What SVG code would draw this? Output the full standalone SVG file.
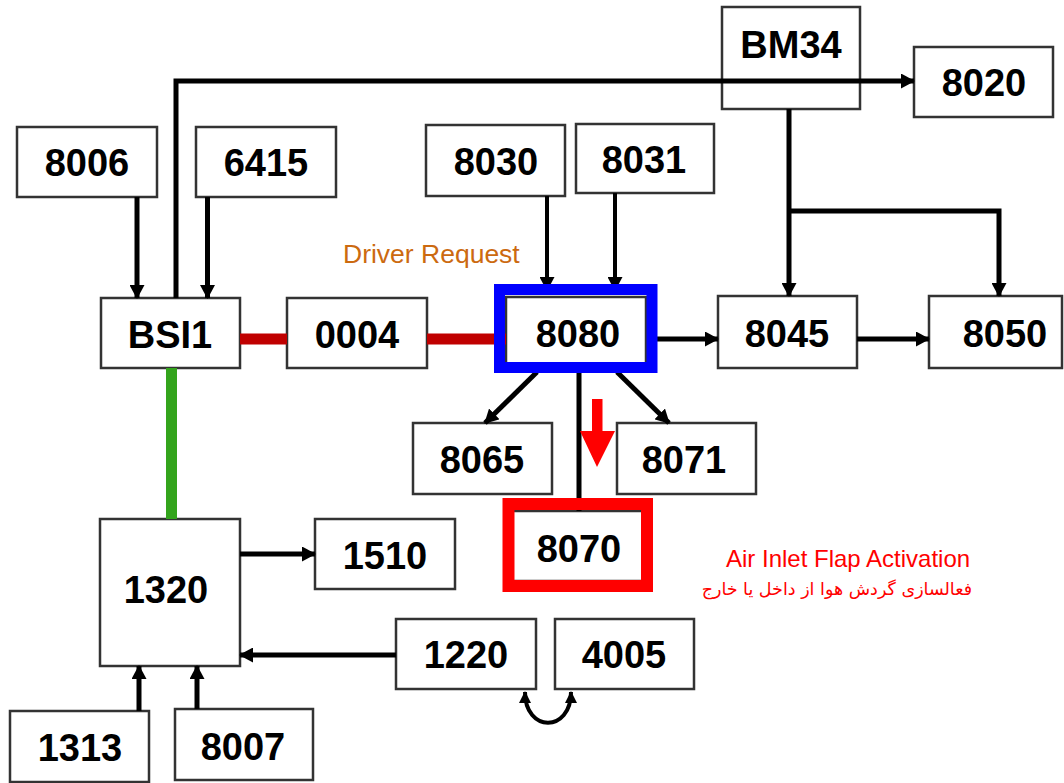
<svg xmlns="http://www.w3.org/2000/svg" width="1064" height="783" viewBox="0 0 1064 783">
<style>
.box{fill:#fff;stroke:#333;stroke-width:2.5}
.lbl{font-family:"Liberation Sans",Arial,sans-serif;font-weight:bold;font-size:38px;fill:#000;text-anchor:middle}
.ln{fill:none;stroke:#000;stroke-width:5}
.thin{fill:none;stroke:#000;stroke-width:4}
</style>
<defs>
<marker id="ah" markerUnits="userSpaceOnUse" markerWidth="14" markerHeight="15" refX="13" refY="7.5" orient="auto">
<path d="M0,0 L14,7.5 L0,15 z" fill="#000"/>
</marker>
<marker id="ahs" markerUnits="userSpaceOnUse" markerWidth="12" markerHeight="12" refX="11" refY="6" orient="auto-start-reverse">
<path d="M0,0 L12,6 L0,12 z" fill="#000"/>
</marker>
</defs>
<rect width="1064" height="783" fill="#fff"/>

<g id="n-BM34"><rect class="box" x="722" y="7" width="138" height="102"/><text class="lbl" x="791" y="58">BM34</text></g>
<g id="n-8020"><rect class="box" x="914" y="47" width="139" height="70"/><text class="lbl" x="984" y="96">8020</text></g>
<g id="n-8006"><rect class="box" x="17" y="127" width="140" height="70"/><text class="lbl" x="87" y="176">8006</text></g>
<g id="n-6415"><rect class="box" x="196" y="127" width="140" height="70"/><text class="lbl" x="266" y="176">6415</text></g>
<g id="n-8030"><rect class="box" x="426" y="125" width="139" height="71"/><text class="lbl" x="496" y="175">8030</text></g>
<g id="n-8031"><rect class="box" x="576" y="124" width="138" height="69"/><text class="lbl" x="644" y="173">8031</text></g>
<g id="n-BSI1"><rect class="box" x="101" y="298" width="139" height="70"/><text class="lbl" x="170" y="348">BSI1</text></g>
<g id="n-0004"><rect class="box" x="287" y="298" width="140" height="70"/><text class="lbl" x="357" y="348">0004</text></g>
<g id="n-8080"><rect class="box" x="506" y="297" width="140" height="70"/><text class="lbl" x="578" y="347">8080</text></g>
<g id="n-8045"><rect class="box" x="718" y="296" width="139" height="72"/><text class="lbl" x="787" y="347">8045</text></g>
<g id="n-8050"><rect class="box" x="929" y="296" width="133" height="72"/><text class="lbl" x="1005" y="347">8050</text></g>
<g id="n-8065"><rect class="box" x="413" y="423" width="139" height="71"/><text class="lbl" x="482" y="473">8065</text></g>
<g id="n-8071"><rect class="box" x="617" y="423" width="139" height="71"/><text class="lbl" x="684" y="473">8071</text></g>
<g id="n-8070"><rect class="box" x="510" y="511" width="136" height="70"/><text class="lbl" x="579" y="562">8070</text></g>
<g id="n-1320"><rect class="box" x="100" y="519" width="140" height="147"/><text class="lbl" x="166" y="603">1320</text></g>
<g id="n-1510"><rect class="box" x="315" y="519" width="140" height="70"/><text class="lbl" x="385" y="569">1510</text></g>
<g id="n-1220"><rect class="box" x="396" y="619" width="140" height="70"/><text class="lbl" x="466" y="668">1220</text></g>
<g id="n-4005"><rect class="box" x="555" y="619" width="139" height="70"/><text class="lbl" x="624" y="668">4005</text></g>
<g id="n-1313"><rect class="box" x="10" y="711" width="139" height="71"/><text class="lbl" x="80" y="761">1313</text></g>
<g id="n-8007"><rect class="box" x="175" y="709" width="138" height="71"/><text class="lbl" x="243" y="760">8007</text></g>

<g id="connectors">
<path d="M176,298 V81 H914" class="ln" stroke-width="6" marker-end="url(#ah)"/>
<path d="M137,197 V298" class="ln" marker-end="url(#ah)"/>
<path d="M207.5,197 V298" class="ln" marker-end="url(#ah)"/>
<path d="M240,339 H287 M427,339 H506" fill="none" stroke="#c00000" stroke-width="11"/>
<path d="M171.5,368 V519" fill="none" stroke="#33a41c" stroke-width="11"/>
<path d="M547,196 V290" class="thin" marker-end="url(#ah)"/>
<path d="M615,193 V290" class="thin" marker-end="url(#ah)"/>
<path d="M789,109 V296" class="ln" marker-end="url(#ah)"/>
<path d="M789,211 H999 V296" class="ln" marker-end="url(#ah)"/>
<path d="M657,339 H718" class="ln" marker-end="url(#ah)"/>
<path d="M857,339 H929" class="ln" marker-end="url(#ah)"/>
<path d="M537,372 L485,423" class="ln" marker-end="url(#ah)"/>
<path d="M617,372 L669,423" class="ln" marker-end="url(#ah)"/>
<path d="M579,373 V511" class="ln"/>
<path d="M240,554 H315" class="ln" marker-end="url(#ah)"/>
<path d="M396,655 H240" class="ln" marker-end="url(#ah)"/>
<path d="M139,711 V666" class="ln" marker-end="url(#ah)"/>
<path d="M197,709 V666" class="ln" marker-end="url(#ah)"/>
<path d="M525,692 C525,733 571,733 571,692" class="thin" marker-start="url(#ahs)" marker-end="url(#ahs)"/>
</g>

<g id="highlights">
<rect x="499.5" y="289.5" width="152.5" height="78" fill="none" stroke="#0000ff" stroke-width="11"/>
<rect x="508.5" y="504" width="138.5" height="82" fill="none" stroke="#ff0000" stroke-width="12"/>
<path d="M592,399 H602.5 V431 H615 L597,467 L580,431 H592 z" fill="#ff0000"/>
</g>

<g id="labels">
<text x="343" y="263" font-family="Liberation Sans, Arial, sans-serif" font-size="26.5" fill="#cc6a10">Driver Request</text>
<text x="726" y="567" font-family="Liberation Sans, Arial, sans-serif" font-size="24" fill="#ff0000">Air Inlet Flap Activation</text>
<text x="972" y="595" direction="rtl" text-anchor="start" font-family="DejaVu Sans, sans-serif" font-size="17.5" fill="#ff0000">فعالسازی گردش هوا از داخل یا خارج</text>
</g>
</svg>
